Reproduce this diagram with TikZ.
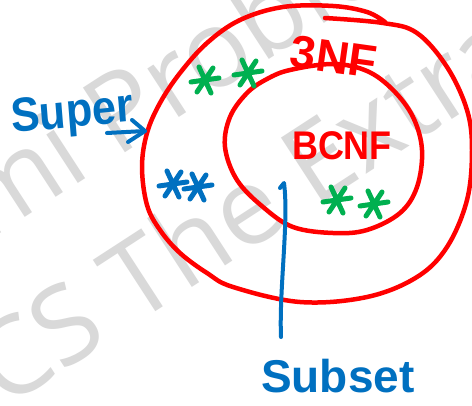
\documentclass[tikz,border=0pt]{standalone}
\usepackage{fontspec}
\setmainfont{Liberation Sans}
\newfontfamily\wmfont{Open Sans}
\usetikzlibrary{calc}
\definecolor{penred}{RGB}{255,0,0}
\definecolor{penblue}{RGB}{0,112,192}
\definecolor{pengreen}{RGB}{0,176,80}
\definecolor{wmgray}{RGB}{217,217,217}
\tikzset{
  redpen/.style={draw=penred, line width=4.5pt, line cap=round, line join=round},
  bluepen/.style={draw=penblue, line width=4pt, line cap=round, line join=round},
  greenpen/.style={draw=pengreen, line width=5pt, line cap=round},
  bluestar/.style={draw=penblue, line width=5pt, line cap=round},
  wm/.style={font=\wmfont\fontsize{108}{108}\selectfont, text=wmgray, inner sep=0pt},
  redtext/.style={font=\bfseries, text=penred, inner sep=0pt},
  bluetext/.style={font=\bfseries, text=penblue, inner sep=0pt},
  astx/.pic={\draw[pic actions] (-14,2) -- (14,-2) (-6,-13) -- (6,13) (8,-12) -- (-8,12);}
}
\begin{document}
\begin{tikzpicture}[x=1pt, y=-1pt]
\useasboundingbox (0,0) rectangle (472,405);
\clip (0,0) rectangle (472,405);
\fill[white] (0,0) rectangle (472,405);
% watermark
\node[wm, anchor=base west, rotate=33] (wm1) at (-14,243) {mi Problem};
\node[wm, anchor=base west, rotate=33] (wm2) at (4,410) {CS The Extra};
% outer set (3NF)
\draw[redpen] plot[smooth, tension=0.6] coordinates {(325,18) (383,23) (417,33) (447,67) (467,110) (472,150) (467,200) (447,247) (417,277) (367,297) (300,302) (233,287) (207,273) (180,253) (160,230) (147,205) (142,167) (147,133) (160,103) (180,73) (207,43) (240,20) (283,7) (333,6) (367,12) (385,22)};
% inner set (BCNF)
\draw[redpen] plot[smooth cycle, tension=0.6] coordinates {(290,70) (333,64) (367,71) (393,90) (413,117) (422,150) (417,187) (400,213) (367,230) (333,233) (293,227) (263,207) (237,180) (225,147) (230,117) (247,93) (267,79)};
% labels
\node[redtext, font=\bfseries\fontsize{46}{46}\selectfont, rotate=-8] (t3nf) at (334,57) {3NF};
\node[redtext, font=\bfseries\fontsize{40}{40}\selectfont, xscale=0.9] (tbcnf) at (342,146) {BCNF};
\node[bluetext, font=\bfseries\fontsize{48}{48}\selectfont, xscale=0.9, anchor=base west, rotate=5] (tsuper) at (12,133) {Super};
\node[bluetext, font=\bfseries\fontsize{46}{46}\selectfont, anchor=base west] (tsubset) at (261,392) {Subset};
% asterisks
\pic[greenpen] at (205,80) {astx};
\pic[greenpen] at (248,73) {astx};
\pic[greenpen] at (337,200) {astx};
\pic[greenpen] at (374,204) {astx};
\pic[bluestar] at (173,184) {astx};
\pic[bluestar] at (198,187) {astx};
% Super arrow
\coordinate (supA) at (107,133);
\coordinate (supTip) at (145,131);
\draw[bluepen] (supA) -- (supTip);
\draw[bluepen] ($(supTip)+(-13,-11)$) -- (supTip) -- ($(supTip)+(-17,11)$);
% Subset line
\coordinate (subA) at (281,337);
\coordinate (subB) at (284,183);
\draw[bluepen] (subA) .. controls (279,290) and (289,220) .. (subB) -- ++(-4,5);
\end{tikzpicture}
\end{document}
